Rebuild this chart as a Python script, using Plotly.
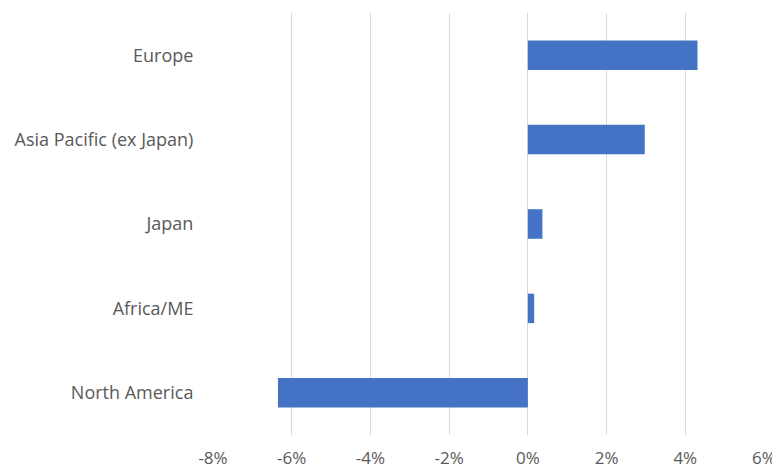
import plotly.graph_objects as go

# regions, top to bottom as in the chart
regions = ['Europe', 'Asia Pacific (ex Japan)', 'Japan', 'Africa/ME', 'North America']
returns = [4.31, 2.97, 0.37, 0.16, -6.35]

x_ticks = [-8, -6, -4, -2, 0, 2, 4, 6]
x_labels = ['-8%', '-6%', '-4%', '-2%', '0%', '2%', '4%', '6%']

# the page body adds an 8px margin, so the figure is sized to fit inside the window
layout = go.Layout(
    width=772,
    height=461,
    paper_bgcolor='white',
    plot_bgcolor='white',
    font=dict(family='Open Sans', size=18, color='#595959'),
    margin=dict(l=205, r=16, t=5, b=34),
    showlegend=False,
    bargap=0.65,
)
fig = go.Figure(layout=layout)

fig.add_trace(
    go.Bar(
        x=returns,
        y=regions,
        orientation='h',
        marker=dict(color='#4472C4', line=dict(width=0)),
    )
)

fig.update_xaxes(
    range=[-8, 6],
    tickvals=x_ticks,
    ticktext=x_labels,
    tickfont=dict(size=17),
    showgrid=True,
    gridcolor='#d9d9d9',
    gridwidth=1,
    zeroline=True,
    zerolinecolor='#d9d9d9',
    zerolinewidth=1,
    showline=False,
    ticks='outside',
    ticklen=8,
    tickcolor='rgba(0,0,0,0)',
    automargin=False,
    fixedrange=True,
)
fig.update_yaxes(
    categoryorder='array',
    categoryarray=regions[::-1],
    showgrid=False,
    zeroline=False,
    showline=False,
    ticks='outside',
    ticklen=15,
    tickcolor='rgba(0,0,0,0)',
    automargin=False,
    fixedrange=True,
)

fig.write_html("out.html")
